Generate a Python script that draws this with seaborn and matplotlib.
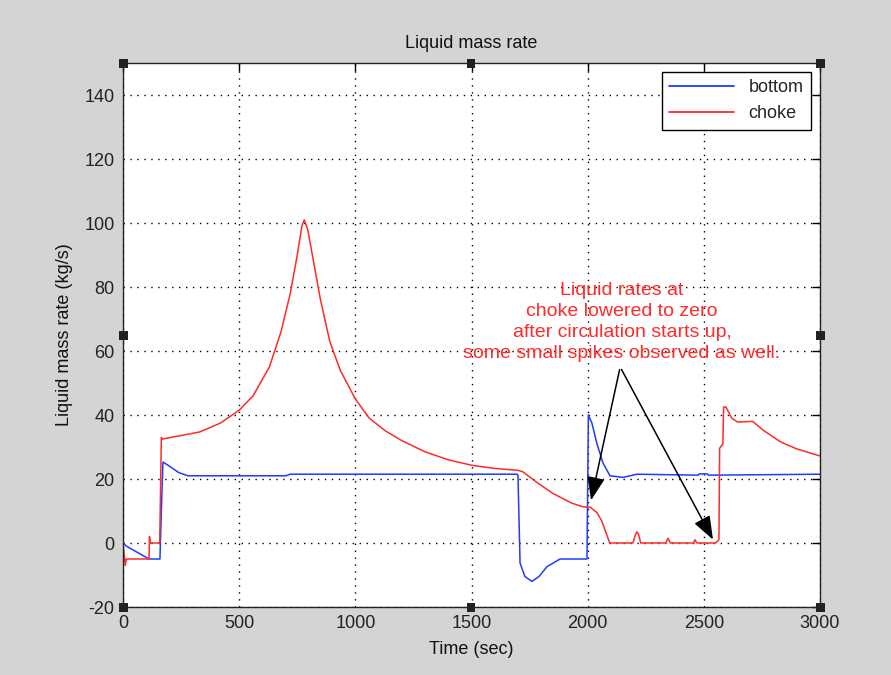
import numpy as np
import pandas as pd
import matplotlib
matplotlib.use("Agg")
import matplotlib.pyplot as plt
from matplotlib.patches import Rectangle
import seaborn as sns

# ---- data ----
bottom_t = [0, 15, 112, 159, 165, 172, 200, 240, 280, 700, 720, 1696, 1700, 1709, 1730, 1760,
            1790, 1825, 1881, 1997, 2003, 2018, 2040, 2066, 2096, 2152, 2212, 2475, 2480,
            2515, 2520, 3000]
bottom_v = [0, -1, -5, -5, 10, 25.3, 24, 22, 21, 21, 21.5, 21.5, 21.2, -6.3, -10.5, -12,
            -10.5, -7.4, -5, -5, 40, 37.5, 31, 25, 21, 20.5, 21.5, 21.2, 21.6,
            21.6, 21.2, 21.5]

choke_t = [0, 10, 14, 112, 114, 118, 158, 165, 170, 330, 420, 500, 560, 630, 680, 720, 750,
           770, 780, 795, 820, 850, 890, 935, 1000, 1060, 1130, 1200, 1300, 1400, 1500, 1600,
           1700, 1720, 1780, 1850, 1930, 1980, 2010, 2040, 2060, 2080, 2095, 2195, 2205, 2212,
           2220, 2228, 2336, 2346, 2356, 2455, 2462, 2470, 2550, 2565, 2568, 2582, 2585, 2595,
           2620, 2645, 2710, 2760, 2830, 2900, 3000]
choke_v = [0, -7, -5, -5, 2, 0, 0, 33, 32.5, 34.7, 37.5, 41.5, 46, 55, 66, 78, 90,
           99, 101, 98, 88, 76, 63, 54, 45, 39, 35, 32, 28.5, 26, 24.3, 23.3,
           22.7, 22.3, 19, 15.5, 12.5, 11.3, 11.2, 9.5, 7, 3, 0, 0, 2.5, 3.5,
           2.5, 0, 0, 1.5, 0, 0, 1, 0, 0, 1, 29.6, 31, 42.5, 42.5,
           39, 37.8, 38, 35, 31.6, 29.4, 27.2]

xticks = [0, 500, 1000, 1500, 2000, 2500, 3000]
yticks = [-20, 0, 20, 40, 60, 80, 100, 120, 140]

annotation = ("Liquid rates at\nchoke lowered to zero\n"
              "after circulation starts up,\nsome small spikes observed as well.")

df = pd.concat([
    pd.DataFrame({"t": bottom_t, "v": bottom_v, "series": "bottom"}),
    pd.DataFrame({"t": choke_t, "v": choke_v, "series": "choke"}),
], ignore_index=True)

sns.set_style("white")
plt.rcParams["font.family"] = ["Liberation Sans", "DejaVu Sans"]
plt.rcParams["axes.unicode_minus"] = False

bg = "#d4d4d4"
fig = plt.figure(figsize=(8.91, 6.75), dpi=100, facecolor=bg)
ax = fig.add_axes([123/891, 1 - 607/675, (820-123)/891, (607-63)/675])
ax.set_facecolor("white")

sns.lineplot(data=df, x="t", y="v", hue="series", palette={"bottom": "#1f3cff", "choke": "#ff2a2a"},
             estimator=None, sort=False, linewidth=1.1, ax=ax)

ax.set_xlim(0, 3000)
ax.set_ylim(-20, 150)
ax.set_xticks(xticks)
ax.set_yticks(yticks)
ax.tick_params(direction="in", length=6, width=1, top=True, right=True,
               labelsize=13, labelcolor="#222222", color="black", pad=6)
ax.grid(True, color="black", linestyle=(0, (1, 4)), linewidth=1)
for s in ax.spines.values():
    s.set_color("#222222")
    s.set_linewidth(1)
    s.set_visible(True)

ax.set_title("Liquid mass rate", fontsize=13, color="#111111", pad=11)
ax.set_xlabel("Time (sec)", fontsize=13, color="#111111", labelpad=6)
ax.set_ylabel("Liquid mass rate (kg/s)", fontsize=13, color="#111111", labelpad=8)

leg = ax.legend(loc="upper right", fontsize=13, frameon=True, fancybox=False,
                edgecolor="black", framealpha=1, borderaxespad=0.5, handlelength=3.6,
                labelspacing=0.5)
leg.get_frame().set_linewidth(1)
for line in leg.get_lines():
    line.set_linewidth(1.3)

ax.text(2148, 69, annotation, color="#ff2a2a", fontsize=14, ha="center", va="center",
        linespacing=1.3)
for tip in [(2012, 12.5), (2545, 0.3)]:
    ax.annotate("", xy=tip, xytext=(2140, 55),
                arrowprops=dict(arrowstyle="-|>,head_length=0.8,head_width=0.3",
                                color="black", lw=1.1, mutation_scale=18))

# selection handles around the axes
for (px, py) in [(123, 63), (471, 63), (820, 63), (123, 335), (820, 335),
                 (123, 607), (471, 607), (820, 607)]:
    fig.add_artist(Rectangle(((px - 4.5) / 891, 1 - (py + 4.5) / 675), 9 / 891, 9 / 675,
                             transform=fig.transFigure, facecolor="#222222",
                             edgecolor="none", zorder=10))

fig.savefig("out.png", dpi=100, facecolor=bg)
